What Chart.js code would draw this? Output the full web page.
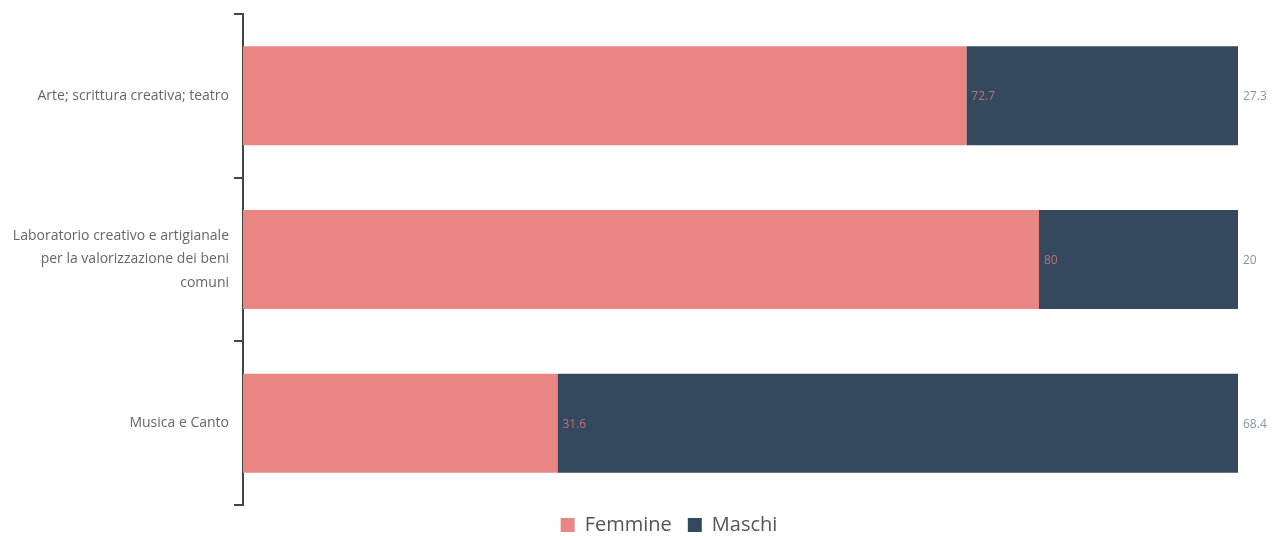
<!DOCTYPE html>
<html lang="it">
<head>
  <meta charset="UTF-8" />
  <title>Femmine / Maschi</title>
  <style>
    body {
      margin: 0;
      background: #fff;
    }
    #wrap {
      width: 1276px;
      height: 536px;
      position: relative;
    }
  </style>
</head>
<body>
  <div id="wrap"><canvas id="chart"></canvas></div>

  <script src="https://cdn.jsdelivr.net/npm/chart.js"></script>
  <script>
    const categories = [
      'Arte; scrittura creativa; teatro',
      ['Laboratorio creativo e artigianale', 'per la valorizzazione dei beni', 'comuni'],
      'Musica e Canto'
    ];
    const femmine = [72.7, 80, 31.6];
    const maschi = [27.3, 20, 68.4];

    const FONT = "'Open Sans', sans-serif";

    // draws each value just past the end of its segment
    const endLabels = {
      id: 'endLabels',
      afterDatasetsDraw(chart) {
        const ctx = chart.ctx;
        ctx.save();
        ctx.font = '12px ' + FONT;
        ctx.textBaseline = 'middle';
        ctx.textAlign = 'left';
        chart.data.datasets.forEach((ds, i) => {
          const meta = chart.getDatasetMeta(i);
          meta.data.forEach((bar, j) => {
            ctx.fillStyle = ds.labelColor;
            ctx.fillText(String(ds.data[j]), bar.x + 5, bar.y + 1);
          });
        });
        ctx.restore();
      }
    };

    // the legend in the original sits right of the canvas centre and a bit higher
    const legendShift = {
      id: 'legendShift',
      afterLayout(chart) {
        if (!chart.legend) return;
        chart.legend.left += 100;
        chart.legend.top -= 6;
      }
    };

    new Chart(document.getElementById('chart'), {
      type: 'bar',
      data: {
        labels: categories,
        datasets: [
          {
            label: 'Femmine',
            data: femmine,
            backgroundColor: '#e98684',
            labelColor: '#bd7179'
          },
          {
            label: 'Maschi',
            data: maschi,
            backgroundColor: '#34495e',
            labelColor: '#8893a0'
          }
        ]
      },
      options: {
        indexAxis: 'y',
        responsive: true,
        maintainAspectRatio: false,
        animation: false,
        layout: { padding: { top: 14, right: 38, left: 0, bottom: -15 } },
        datasets: {
          bar: { categoryPercentage: 1, barPercentage: 0.605 }
        },
        scales: {
          x: {
            display: false,
            stacked: true,
            min: 0,
            max: 100
          },
          y: {
            stacked: true,
            afterFit: s => {
              s.width = 243;
              s.paddingTop = 0;
              s.paddingBottom = 0;
            },
            border: { display: true, color: '#444', width: 2 },
            grid: {
              offset: true,
              drawOnChartArea: false,
              color: '#444',
              lineWidth: 2,
              tickLength: 9
            },
            ticks: {
              color: '#666',
              padding: 5,
              font: { family: FONT, size: 14, lineHeight: 1.65 }
            }
          }
        },
        plugins: {
          legend: {
            position: 'bottom',
            labels: {
              boxWidth: 14,
              boxHeight: 14,
              padding: 16,
              color: '#555',
              font: { family: FONT, size: 20 }
            }
          },
          tooltip: { enabled: false }
        }
      },
      plugins: [endLabels, legendShift]
    });
  </script>
</body>
</html>
